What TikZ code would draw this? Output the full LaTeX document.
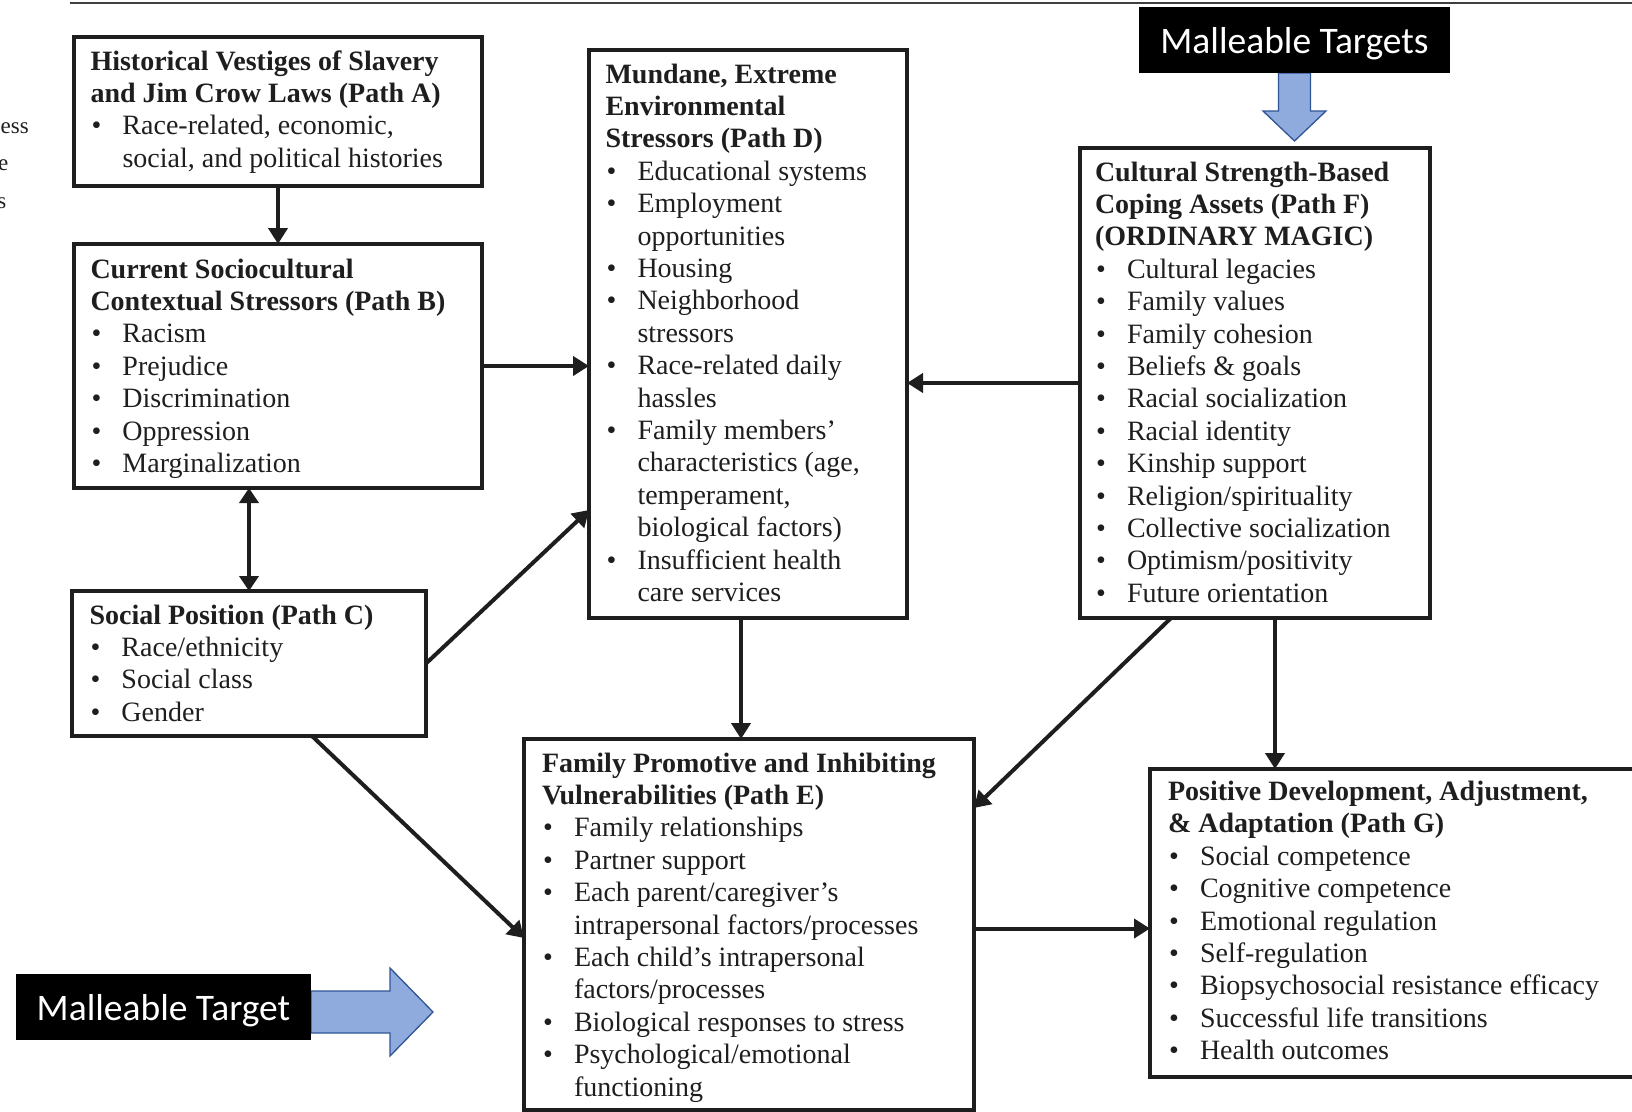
\documentclass[tikz,border=0pt]{standalone}
\usepackage{fontspec}
\setmainfont{Liberation Serif}
\newfontfamily\labelfont{Carlito}
\usetikzlibrary{arrows.meta,calc}
\definecolor{ink}{HTML}{1E1E1E}
\definecolor{blueF}{HTML}{8FAADC}
\definecolor{blueD}{HTML}{2F5597}
% bullet item and continuation line of an item
\newcommand\bul{\makebox[32pt][l]{\hspace{1pt}\textbullet}}
\newcommand\cont{\hspace*{32pt}}
\newcommand\hd[1]{\textbf{#1}}

\begin{document}
\begin{tikzpicture}[x=1pt,y=-1pt,
  box/.style={draw=ink, line width=4pt, rectangle, inner sep=0pt, outer sep=0pt, anchor=north west},
  txt/.style={inner sep=0pt, outer sep=0pt, anchor=base west, text=ink, font=\fontsize{28}{32.4}\selectfont},
  link/.style={draw=ink, line width=4pt, -{Triangle[length=16pt,width=19pt]}},
  link2/.style={draw=ink, line width=4pt, {Triangle[length=15pt,width=19pt]}-{Triangle[length=15pt,width=19pt]}},
  tag/.style={fill=black, text=white, inner sep=0pt, outer sep=0pt, anchor=north west,
    text height=30pt, text depth=3pt, font=\labelfont\fontsize{37.5}{40}\selectfont},
  blockarrow/.style={fill=blueF, draw=blueD, line width=1.3pt, line join=miter},
  frag/.style={inner sep=0pt, anchor=base east, text=ink, font=\fontsize{23}{27}\selectfont}
]
\useasboundingbox (0,0) rectangle (1632,1111);

% rule across the top of the page
\draw[ink!85, line width=2pt] (70,3) -- (1640,3);

% tails of the neighbouring column's text
\node[frag] (f1) at (29,133) {ess};
\node[frag] (f2) at (8.5,170) {e};
\node[frag] (f3) at (6.5,208) {s};

% ---------- boxes ----------
\node[box, minimum width=408pt, minimum height=149pt] (A) at (74,37) {};
\node[box, minimum width=408pt, minimum height=244pt] (B) at (74,244) {};
\node[box, minimum width=354pt, minimum height=145pt] (C) at (72,591) {};
\node[box, minimum width=318pt, minimum height=568pt] (D) at (589,50) {};
\node[box, minimum width=350pt, minimum height=470pt] (F) at (1080,148) {};
\node[box, minimum width=450pt, minimum height=371pt] (E) at (524,739) {};
\node[box, minimum width=500pt, minimum height=308pt] (G) at (1150,769) {};

% ---------- box texts ----------
\node[txt] (At) at ([shift={(16.5pt,-33pt)}]A.north west) {\begin{tabular}[t]{@{}l@{}}
\hd{Historical Vestiges of Slavery}\\
\hd{and Jim Crow Laws (Path A)}\\
\bul Race-related, economic,\\
\cont social, and political histories
\end{tabular}};

\node[txt] (Bt) at ([shift={(16.5pt,-34pt)}]B.north west) {\begin{tabular}[t]{@{}l@{}}
\hd{Current Sociocultural}\\
\hd{Contextual Stressors (Path B)}\\
\bul Racism\\
\bul Prejudice\\
\bul Discrimination\\
\bul Oppression\\
\bul Marginalization
\end{tabular}};

\node[txt] (Ct) at ([shift={(17.5pt,-33pt)}]C.north west) {\begin{tabular}[t]{@{}l@{}}
\hd{Social Position (Path C)}\\
\bul Race/ethnicity\\
\bul Social class\\
\bul Gender
\end{tabular}};

\node[txt] (Dt) at ([shift={(16.5pt,-33pt)}]D.north west) {\begin{tabular}[t]{@{}l@{}}
\hd{Mundane, Extreme}\\
\hd{Environmental}\\
\hd{Stressors (Path D)}\\
\bul Educational systems\\
\bul Employment\\
\cont opportunities\\
\bul Housing\\
\bul Neighborhood\\
\cont stressors\\
\bul Race-related daily\\
\cont hassles\\
\bul Family members’\\
\cont characteristics (age,\\
\cont temperament,\\
\cont biological factors)\\
\bul Insufficient health\\
\cont care services
\end{tabular}};

\node[txt] (Ft) at ([shift={(15pt,-33pt)}]F.north west) {\begin{tabular}[t]{@{}l@{}}
\hd{Cultural Strength-Based}\\
\hd{Coping Assets (Path F)}\\
\hd{(ORDINARY MAGIC)}\\
\bul Cultural legacies\\
\bul Family values\\
\bul Family cohesion\\
\bul Beliefs \& goals\\
\bul Racial socialization\\
\bul Racial identity\\
\bul Kinship support\\
\bul Religion/spirituality\\
\bul Collective socialization\\
\bul Optimism/positivity\\
\bul Future orientation
\end{tabular}};

\node[txt] (Et) at ([shift={(18pt,-33pt)}]E.north west) {\begin{tabular}[t]{@{}l@{}}
\hd{Family Promotive and Inhibiting}\\
\hd{Vulnerabilities (Path E)}\\
\bul Family relationships\\
\bul Partner support\\
\bul Each parent/caregiver’s\\
\cont intrapersonal factors/processes\\
\bul Each child’s intrapersonal\\
\cont factors/processes\\
\bul Biological responses to stress\\
\bul Psychological/emotional\\
\cont functioning
\end{tabular}};

\node[txt] (Gt) at ([shift={(18pt,-31.5pt)}]G.north west) {\begin{tabular}[t]{@{}l@{}}
\hd{Positive Development, Adjustment,}\\
\hd{\& Adaptation (Path G)}\\
\bul Social competence\\
\bul Cognitive competence\\
\bul Emotional regulation\\
\bul Self-regulation\\
\bul Biopsychosocial resistance efficacy\\
\bul Successful life transitions\\
\bul Health outcomes
\end{tabular}};

% ---------- connectors ----------
\coordinate (d1) at ([xshift=-7pt]D.south);
\coordinate (f1s) at ([xshift=20pt]F.south);
\coordinate (e1) at ([yshift=-4pt]E.east);

\draw[link] (A.south) -- (B.north);
\draw[link2] (C.north |- B.south) -- (C.north);
\draw[link] (B.east) -- (B.east -| D.west);
\draw[link] (C.east) -- ([yshift=-176pt]D.west);
\draw[link] (d1) -- (d1 |- E.north);
\draw[link] (F.west) -- (F.west -| D.east);
\draw[link] ([xshift=-84pt]F.south) -- ([yshift=116.5pt]E.east);
\draw[link] (f1s) -- (f1s |- G.north);
\draw[link] (e1) -- (e1 -| G.west);
\draw[link] ([xshift=63pt]C.south) -- ([yshift=-13.5pt]E.west);

% ---------- malleable-target callouts ----------
\coordinate (t1) at (1294.5,73);
\coordinate (t2) at (311,1012);
\draw[blockarrow] ($(t1)+(-16,0)$) -- ($(t1)+(16,0)$) -- ($(t1)+(16,38)$)
  -- ($(t1)+(31.5,38)$) -- ($(t1)+(0,68)$) -- ($(t1)+(-31.5,38)$)
  -- ($(t1)+(-16,38)$) -- cycle;
\draw[blockarrow] ($(t2)+(0,-21)$) -- ($(t2)+(79,-21)$) -- ($(t2)+(79,-44)$)
  -- ($(t2)+(122,0)$) -- ($(t2)+(79,44)$) -- ($(t2)+(79,21)$)
  -- ($(t2)+(0,21)$) -- cycle;
\node[tag, minimum width=311pt, minimum height=66pt] (T1) at (1139,7) {Malleable Targets};
\node[tag, minimum width=295pt, minimum height=66pt] (T2) at (16,974) {Malleable Target};
\end{tikzpicture}
\end{document}
